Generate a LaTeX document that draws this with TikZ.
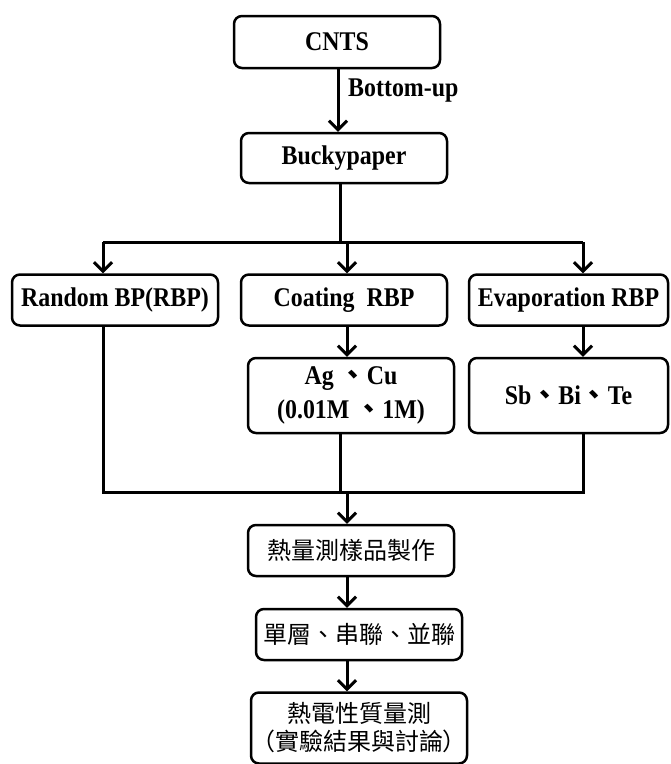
\documentclass[tikz,border=0pt]{standalone}
\usepackage{fontspec}
\setmainfont{Liberation Serif}[FakeStretch=0.885]
\newfontfamily\cjk{Noto Sans CJK TC}
\usetikzlibrary{arrows.meta}
\tikzset{
  box/.style={draw, line width=2.5pt, rounded corners=8pt, align=center,
    font=\fontsize{27}{34}\selectfont\bfseries, inner sep=0pt},
  cbox/.style={draw, line width=2.5pt, rounded corners=8pt, align=center,
    font=\fontsize{24}{28}\selectfont\cjk, inner sep=0pt},
  conn/.style={line width=3pt},
  arr/.style={line width=3pt, -{Straight Barb[length=9pt,width=18pt]}}
}
\begin{document}
\begin{tikzpicture}[x=1pt,y=-1pt]
\useasboundingbox (0,0) rectangle (671,764);
\node[box, minimum width=206pt, minimum height=52pt] (cnts) at (337,42) {CNTS};
\node[box, minimum width=206pt, minimum height=50pt] (bucky) at (344,158) {Buckypaper};
\node[font=\fontsize{27}{30}\selectfont\bfseries, anchor=west, inner sep=0pt] (bu) at (348,91) {Bottom-up};
\node[box, minimum width=206pt, minimum height=51pt] (rand) at (115,300) {Random BP(RBP)};
\node[box, minimum width=206pt, minimum height=51pt] (coat) at (344,300) {Coating\ \ RBP};
\node[box, minimum width=199pt, minimum height=51pt] (evap) at (568.5,300) {Evaporation RBP};
\node[box, minimum width=206pt, minimum height=75pt] (ag) at (351,395.5) {Ag {\cjk 、}Cu\\(0.01M {\cjk 、}1M)};
\node[box, minimum width=199pt, minimum height=75pt] (sb) at (568.5,395.5) {Sb{\cjk 、}Bi{\cjk 、}Te};
\node[cbox, minimum width=206pt, minimum height=51pt] (meas) at (351,550.5) {熱量測樣品製作};
\node[cbox, minimum width=206pt, minimum height=51pt] (layer) at (359,634.5) {單層、串聯、並聯};
\node[cbox, minimum width=206pt, minimum height=71pt] (thermo) at (359,728) {熱電性質量測\\（實驗結果與討論）};
\coordinate (x0) at (338,0);
\coordinate (top) at (340,242);
\coordinate (c1) at (103,242);
\coordinate (c2) at (347,242);
\coordinate (c3) at (583,242);
\coordinate (d1) at (103,492);
\coordinate (d2) at (340,492);
\coordinate (d3) at (583,492);
\coordinate (d4) at (347,492);
\draw[arr] (cnts.south -| x0) -- (bucky.north -| x0);
\draw[conn] (bucky.south -| top) -- (top);
\draw[conn] (c1) -- (c3);
\draw[arr] (c1) -- (rand.north -| c1);
\draw[arr] (c2) -- (coat.north -| c2);
\draw[arr] (c3) -- (evap.north -| c3);
\draw[arr] (coat.south -| c2) -- (ag.north -| c2);
\draw[arr] (evap.south -| c3) -- (sb.north -| c3);
\draw[conn] (rand.south -| d1) -- (d1) -- (d3) -- (sb.south -| d3);
\draw[conn] (ag.south -| d2) -- (d2);
\draw[arr] (d4) -- (meas.north -| d4);
\draw[arr] (meas.south -| d4) -- (layer.north -| d4);
\draw[arr] (layer.south -| d4) -- (thermo.north -| d4);
\end{tikzpicture}
\end{document}
